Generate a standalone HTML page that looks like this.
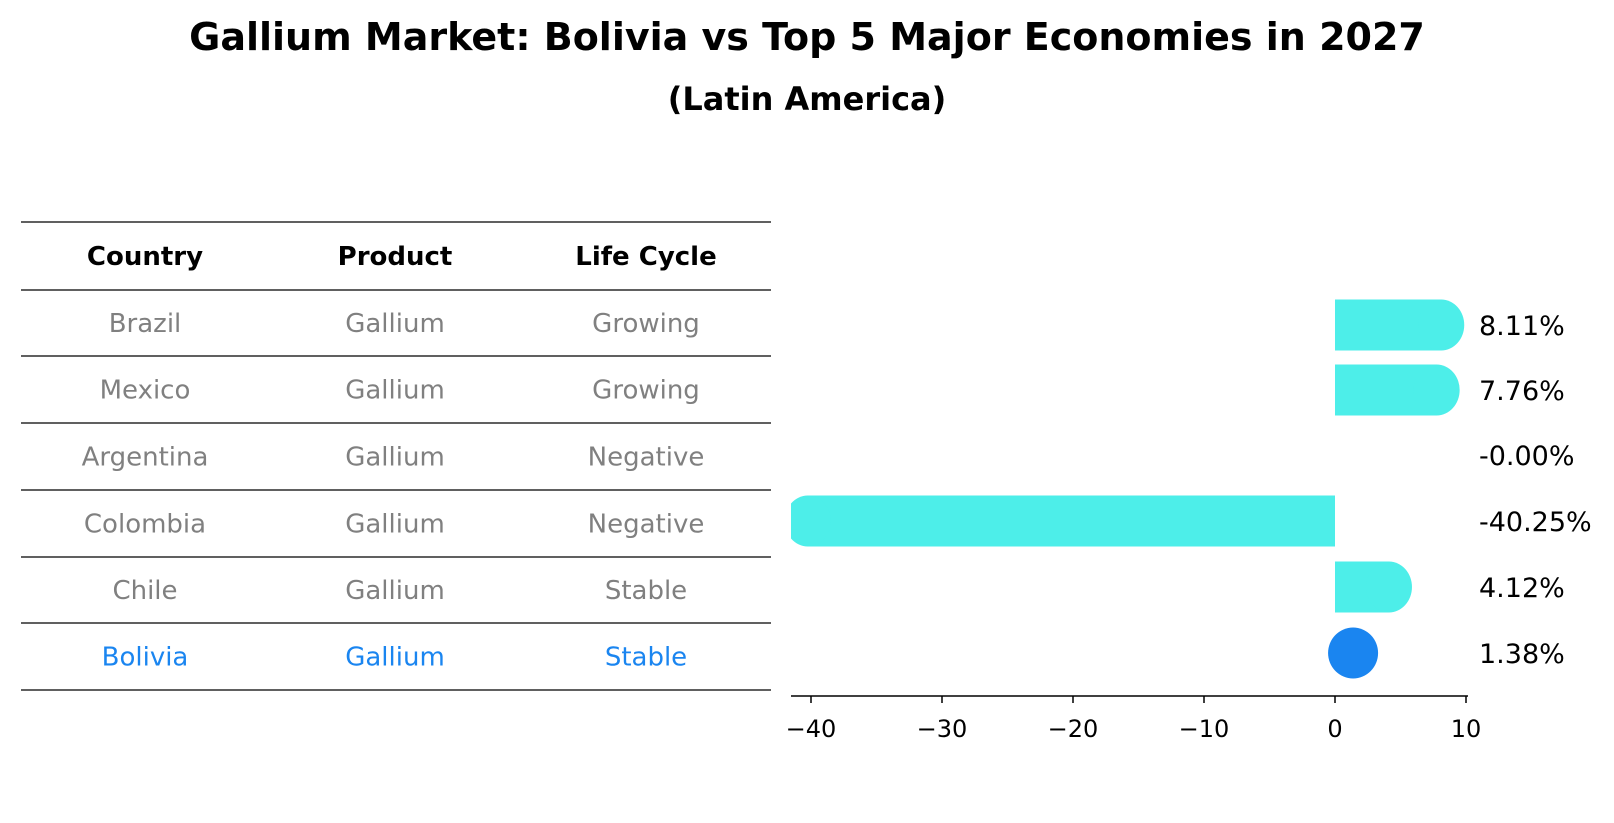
<!DOCTYPE html>
<html><head><meta charset="utf-8"><style>
body{margin:0;background:#fff;font-family:"DejaVu Sans","Liberation Sans",sans-serif;}
#wrap{position:relative;width:1614px;height:823px;overflow:hidden;}
</style></head><body>
<div id="wrap">
<svg id="svg" width="1614" height="823" xmlns="http://www.w3.org/2000/svg" font-family="DejaVu Sans, Liberation Sans, sans-serif">
<text x="807" y="50" text-anchor="middle" font-size="38" font-weight="bold">Gallium Market: Bolivia vs Top 5 Major Economies in 2027</text>
<text x="807" y="110" text-anchor="middle" font-size="32" font-weight="bold">(Latin America)</text>
<g id="table"></g>
<g id="bars"></g>
</svg>
</div>
<script>
const countries=["Brazil","Mexico","Argentina","Colombia","Chile","Bolivia"];
const products=["Gallium","Gallium","Gallium","Gallium","Gallium","Gallium"];
const lifeCycles=["Growing","Growing","Negative","Negative","Stable","Stable"];
const values=[8.11,7.76,-0.00,-40.25,4.12,1.38];
const tickValues=[-40,-30,-20,-10,0,10];
const highlight="Bolivia";

const NS="http://www.w3.org/2000/svg";
function mk(tag,attrs,parent){const e=document.createElementNS(NS,tag);for(const k in attrs)e.setAttribute(k,attrs[k]);parent.appendChild(e);return e;}
const table=document.getElementById('table');
const lineYs=[222,290,356,423,490,557,623,690];
const colX=[145,395,646];
lineYs.forEach((y,i)=>{const l=mk('line',{x1:21,x2:771,y1:y,y2:y,stroke:'#000','stroke-width':1.2},table);

});
["Country","Product","Life Cycle"].forEach((h,i)=>{const t=mk('text',{x:colX[i],y:265,'text-anchor':'middle','font-size':26,'font-weight':'bold'},table);t.textContent=h;

});
countries.forEach((c,r)=>{const y=(lineYs[r+1]+lineYs[r+2])/2+9;const col=c===highlight?'#1a85f0':'#808080';
[c,products[r],lifeCycles[r]].forEach((v,i)=>{const t=mk('text',{x:colX[i],y:y,'text-anchor':'middle','font-size':26,fill:col},table);t.textContent=v;

});});

const bars=document.getElementById('bars');
const x0=1335, pxPerUnit=13.1, axL=791, axR=1468, axY=696;
const X=v=>x0+v*pxPerUnit;
const rowY=[325,390,455,521,587,653];
const ry=25.5, rx=23;
const cp=mk('clipPath',{id:'clip'},bars);
mk('rect',{x:axL,y:0,width:axR-axL+40,height:823},cp);
const g=mk('g',{'clip-path':'url(#clip)'},bars);
values.forEach((v,i)=>{const y=rowY[i];
if(countries[i]===highlight){const c=mk('ellipse',{cx:X(v),cy:y,rx:25,ry:ry,fill:'#1a85f0'},g);

}
else if(Math.abs(v)>0.001){const a=Math.min(X(0),X(v)),w=Math.abs(X(v)-X(0));
const gg=mk('g',{},g);


mk('rect',{x:a,y:y-ry,width:w,height:2*ry,fill:'#4deee9'},gg);
mk('ellipse',{cx:X(v),cy:y,rx:rx,ry:ry,fill:'#4deee9'},gg);}
const t=mk('text',{x:1479,y:y+10,'font-size':27},bars);t.textContent=(v<=0&&Math.abs(v)<0.005?'-0.00':v.toFixed(2))+'%';

});
const ax=mk('line',{x1:axL,x2:axR,y1:axY,y2:axY,stroke:'#000','stroke-width':1.5},bars);


tickValues.forEach(v=>{const tk=mk('line',{x1:X(v),x2:X(v),y1:axY,y2:axY+7,stroke:'#000','stroke-width':1.5},bars);


const t=mk('text',{x:X(v),y:737,'text-anchor':'middle','font-size':24},bars);t.textContent=(v<0?'\u2212'+Math.abs(v):v);

});
</script>
</body></html>
